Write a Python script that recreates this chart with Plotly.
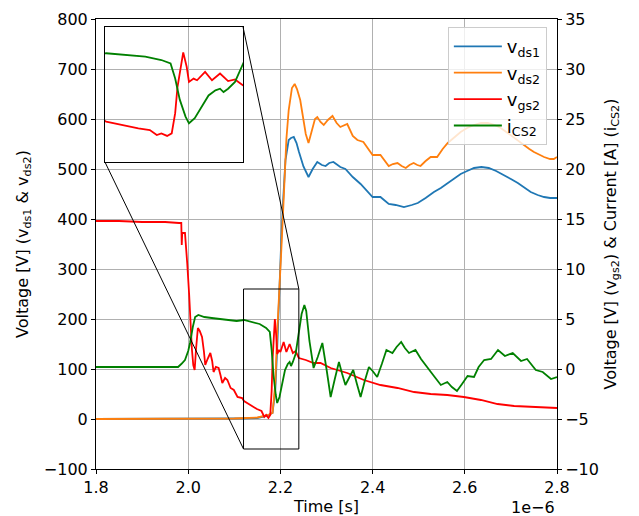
import plotly.graph_objects as go

# ---------------- data (time in units of 1e-6 s) ----------------
vds1_t = [1.80, 1.90, 2.00, 2.10, 2.15, 2.17, 2.183, 2.189, 2.193, 2.198, 2.202, 2.206, 2.211,
          2.218, 2.223, 2.229, 2.235, 2.240, 2.250, 2.261, 2.270, 2.280, 2.290, 2.298, 2.306,
          2.315, 2.330, 2.341, 2.357, 2.374, 2.388, 2.400, 2.417, 2.435, 2.450, 2.468, 2.485,
          2.498, 2.515, 2.533, 2.548, 2.563, 2.577, 2.591, 2.605, 2.620, 2.636, 2.652, 2.668,
          2.685, 2.700, 2.715, 2.730, 2.743, 2.758, 2.772, 2.785, 2.800]
vds1_v = [0, 0, 0, 1, 2, 6, 12, 60, 140, 284, 360, 438, 518,
          558, 562, 564, 552, 535, 505, 484, 500, 514, 508, 506, 512,
          514, 504, 500, 484, 470, 455, 444, 444, 430, 428, 424, 428,
          432, 442, 454, 462, 472, 482, 490, 496, 502, 504, 502, 496,
          488, 480, 472, 462, 454, 448, 444, 442, 442]

vds2_t = [1.80, 1.90, 2.00, 2.10, 2.15, 2.17, 2.183, 2.189, 2.193, 2.198, 2.202, 2.207, 2.213,
          2.218, 2.225, 2.231, 2.236, 2.243, 2.250, 2.255, 2.261, 2.268, 2.275, 2.280, 2.287,
          2.294, 2.303, 2.313, 2.322, 2.330, 2.338, 2.345, 2.357, 2.367, 2.380, 2.390, 2.400,
          2.417, 2.427, 2.435, 2.444, 2.454, 2.463, 2.472, 2.480, 2.489, 2.497, 2.504, 2.515,
          2.526, 2.540, 2.552, 2.563, 2.577, 2.591, 2.605, 2.620, 2.635, 2.650, 2.665, 2.678,
          2.693, 2.707, 2.718, 2.728, 2.740, 2.750, 2.762, 2.772, 2.785, 2.793, 2.800]
vds2_v = [0, 0, 0, 1, 3, 7, 12, 72, 172, 284, 338, 438, 560,
          618, 662, 670, 660, 638, 600, 570, 552, 575, 600, 604, 594,
          588, 598, 606, 592, 584, 588, 590, 566, 558, 554, 540, 528,
          528, 516, 506, 510, 512, 506, 502, 508, 512, 508, 506, 516,
          524, 524, 540, 552, 564, 574, 582, 588, 592, 592, 588, 582,
          572, 562, 554, 548, 540, 534, 528, 524, 520, 520, 524]

vgs2_t = [1.80, 1.85, 1.90, 1.95, 1.980, 1.985, 1.986, 1.987, 1.993, 1.996, 1.998, 2.002,
          2.004, 2.008, 2.011, 2.014, 2.017, 2.021, 2.025, 2.030, 2.034, 2.037, 2.042, 2.048,
          2.052, 2.055, 2.060, 2.066, 2.070, 2.074, 2.080, 2.085, 2.092, 2.099, 2.107, 2.117,
          2.121, 2.128, 2.137, 2.149, 2.159, 2.165, 2.169, 2.174, 2.178, 2.181, 2.183, 2.188,
          2.191, 2.193, 2.197, 2.200, 2.207, 2.213, 2.220, 2.227, 2.233, 2.240, 2.255, 2.272,
          2.287, 2.309, 2.345, 2.381, 2.417, 2.454, 2.490, 2.526, 2.562, 2.598, 2.635, 2.671,
          2.707, 2.743, 2.780, 2.800]
vgs2_v = [14.8, 14.8, 14.7, 14.7, 14.6, 14.6, 12.4, 13.6, 13.6, 12.1, 10.5, 7.5,
          5.5, 2.0, 0.4, -0.1, 2.0, 4.1, 3.8, 3.2, 1.8, 0.4, 1.0, 1.6,
          0.8, -0.3, 0.2, 0.1, -0.6, -1.4, -0.9, -1.1, -1.9, -2.1, -2.8, -2.9,
          -3.2, -3.4, -3.7, -4.0, -4.2, -4.8, -4.6, -4.9, -4.6, -2.2, 0.9, 5.0,
          3.3, 1.5, 1.9, 1.7, 2.7, 1.7, 2.5, 1.6, 1.8, 1.1, 0.9, 0.6,
          0.6, 0.1, -0.4, -1.1, -1.6, -1.9, -2.3, -2.5, -2.6, -2.8, -3.1, -3.5,
          -3.7, -3.8, -3.9, -3.9]

ics2_t = [1.80, 1.90, 1.978, 1.985, 1.993, 2.000, 2.004, 2.010, 2.015, 2.022, 2.035, 2.051,
          2.070, 2.088, 2.105, 2.121, 2.140, 2.155, 2.169, 2.177, 2.181, 2.185, 2.190, 2.193,
          2.198, 2.204, 2.210, 2.216, 2.220, 2.223, 2.227, 2.233, 2.240, 2.246, 2.252, 2.256,
          2.263, 2.272, 2.281, 2.291, 2.300, 2.309, 2.318, 2.327, 2.334, 2.341, 2.350, 2.358,
          2.366, 2.374, 2.383, 2.392, 2.400, 2.410, 2.420, 2.430, 2.443, 2.452, 2.462, 2.470,
          2.479, 2.493, 2.505, 2.519, 2.533, 2.548, 2.562, 2.572, 2.583, 2.594, 2.606, 2.620,
          2.630, 2.642, 2.657, 2.672, 2.687, 2.704, 2.722, 2.735, 2.754, 2.769, 2.787, 2.800]
ics2_v = [0.2, 0.2, 0.2, 0.5, 0.9, 1.8, 2.6, 4.2, 5.2, 5.4, 5.2, 5.1,
          5.0, 4.9, 4.8, 4.9, 4.7, 4.5, 4.1, 3.7, 1.9, -0.6, -2.6, -3.4,
          -2.8, -1.4, -0.1, 0.5, 0.7, 0.3, 0.7, 1.5, 3.5, 5.5, 6.4, 5.8,
          2.8, 0.1, 1.2, 2.6, 0.0, -2.8, -1.0, 0.7, -0.5, -1.6, -0.8, -0.1,
          -1.5, -2.8, -1.2, 0.2, -0.2, -0.8, 0.5, 1.9, 1.6, 2.2, 2.7, 2.1,
          1.6, 1.9, 1.0, 0.2, -0.7, -1.6, -1.3, -1.8, -2.2, -1.5, -0.7, -0.8,
          0.2, 0.9, 1.0, 1.9, 1.3, 1.6, 0.8, 1.0, -0.1, -0.3, -1.0, -0.8]

x_ticks = [1.8, 2.0, 2.2, 2.4, 2.6, 2.8]
x_range = [1.8, 2.8]
yl_range = [-100, 800]
yr_range = [-10, 35]
zoom_x = [2.12, 2.24]
zoom_y = [-8, 8]

# ---------------- layout geometry ----------------
inset_xdom = [0.0195, 0.319]
inset_ydom = [0.682, 0.982]

def px(t):
    return (t - x_range[0]) / (x_range[1] - x_range[0])

def py(v):
    return (v - yr_range[0]) / (yr_range[1] - yr_range[0])

FONT = "DejaVu Sans"
C_BLUE, C_ORANGE, C_RED, C_GREEN = "#1f77b4", "#ff7f0e", "#ff0000", "#008000"
LW = 1.8

fig = go.Figure()
fig.add_trace(go.Scatter(x=vds1_t, y=vds1_v, mode="lines", name="v<sub>ds1</sub>",
                         legendgroup="a", line=dict(color=C_BLUE, width=LW),
                         xaxis="x", yaxis="y"))
fig.add_trace(go.Scatter(x=vds2_t, y=vds2_v, mode="lines", name="v<sub>ds2</sub>",
                         legendgroup="b", line=dict(color=C_ORANGE, width=LW),
                         xaxis="x", yaxis="y"))
fig.add_trace(go.Scatter(x=vgs2_t, y=vgs2_v, mode="lines", name="v<sub>gs2</sub>",
                         legendgroup="c", line=dict(color=C_RED, width=LW),
                         xaxis="x", yaxis="y2"))
fig.add_trace(go.Scatter(x=ics2_t, y=ics2_v, mode="lines", name="i<sub>CS2</sub>",
                         legendgroup="d", line=dict(color=C_GREEN, width=LW),
                         xaxis="x", yaxis="y2"))
# inset
fig.add_trace(go.Scatter(x=vgs2_t, y=vgs2_v, mode="lines", showlegend=False,
                         line=dict(color=C_RED, width=LW), xaxis="x3", yaxis="y3"))
fig.add_trace(go.Scatter(x=ics2_t, y=ics2_v, mode="lines", showlegend=False,
                         line=dict(color=C_GREEN, width=LW), xaxis="x3", yaxis="y3"))

axis_common = dict(showline=True, linecolor="black", linewidth=1, ticks="outside",
                   ticklen=4, tickcolor="black", zeroline=False, automargin=False,
                   tickfont=dict(family=FONT, size=16, color="black"))

fig.update_layout(
    width=639, height=516,
    margin=dict(l=96, r=82, t=19, b=47),
    paper_bgcolor="white", plot_bgcolor="rgba(0,0,0,0)",
    font=dict(family=FONT, size=16, color="black"),
    xaxis=dict(range=x_range, domain=[0, 1], anchor="y", tickvals=x_ticks,
               tickformat=".1f", mirror=True, showgrid=True, gridcolor="#b0b0b0",
               title=dict(text="Time [s]", standoff=2, font=dict(family=FONT, size=16)),
               **axis_common),
    yaxis=dict(range=yl_range, domain=[0, 1], anchor="x", dtick=100, showgrid=True,
               gridcolor="#b0b0b0",
               title=dict(text="Voltage [V] (v<sub>ds1</sub> & v<sub>ds2</sub>)",
                          standoff=11, font=dict(family=FONT, size=16)),
               **axis_common),
    yaxis2=dict(range=yr_range, overlaying="y", side="right", anchor="x", dtick=5,
                showgrid=False,
                title=dict(text="Voltage [V] (v<sub>gs2</sub>) & Current [A] (i<sub>CS2</sub>)",
                           standoff=6, font=dict(family=FONT, size=16)),
                **axis_common),
    xaxis3=dict(range=zoom_x, domain=inset_xdom, anchor="y3", showticklabels=False,
                ticks="", showgrid=False, zeroline=False, showline=True, mirror=True,
                linecolor="black", linewidth=1),
    yaxis3=dict(range=zoom_y, domain=inset_ydom, anchor="x3", showticklabels=False,
                ticks="", showgrid=False, zeroline=False, showline=True, mirror=True,
                linecolor="black", linewidth=1),
    legend=dict(x=0.978, y=0.982, xanchor="right", yanchor="top",
                bgcolor="rgba(255,255,255,0.8)", bordercolor="#cccccc", borderwidth=1,
                font=dict(family=FONT, size=18, color="black"), tracegroupgap=0,
                itemwidth=48),
    showlegend=True,
)

# zoom rectangle in the main axes
fig.add_shape(type="rect", xref="x", yref="y2", x0=zoom_x[0], x1=zoom_x[1],
              y0=zoom_y[0], y1=zoom_y[1], line=dict(color="black", width=1))
# connector lines (inset corners -> rectangle corners)
fig.add_shape(type="line", xref="paper", yref="paper",
              x0=inset_xdom[0], y0=inset_ydom[0], x1=px(zoom_x[0]), y1=py(zoom_y[0]),
              line=dict(color="black", width=1))
fig.add_shape(type="line", xref="paper", yref="paper",
              x0=inset_xdom[1], y0=inset_ydom[1], x1=px(zoom_x[1]), y1=py(zoom_y[1]),
              line=dict(color="black", width=1))

# offset text
fig.add_annotation(text="1e\u22126", xref="paper", yref="paper", x=1.0, y=-0.086,
                   xanchor="right", yanchor="middle", showarrow=False,
                   font=dict(family=FONT, size=16, color="black"))

fig.write_html("out.html")
